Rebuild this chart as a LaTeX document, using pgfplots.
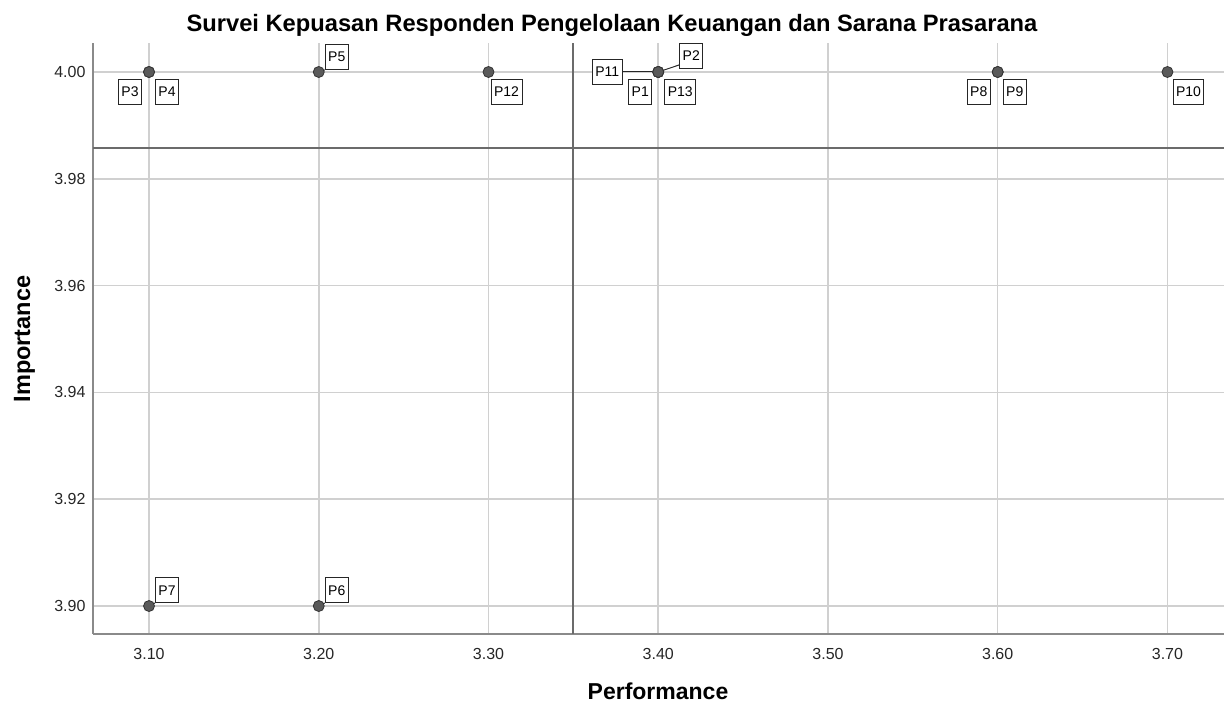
\documentclass[border=0pt]{standalone}
\usepackage{pgfplots}
\pgfplotsset{compat=1.18}
\usepackage{fontspec}
\setmainfont{Liberation Sans}
\definecolor{gridc}{HTML}{D0D0D0}
\definecolor{refc}{HTML}{6B6B6B}
\definecolor{markc}{HTML}{5A5A5A}
\definecolor{axc}{HTML}{8A8A8A}
\begin{document}
\begin{tikzpicture}[x=1pt,y=1pt,
  lbl/.style={draw=black!85, fill=white, line width=0.9pt, font=\fontsize{14}{14}\selectfont, inner xsep=3pt, inner ysep=0pt, minimum height=25pt, text height=10pt, text depth=0pt},
  con/.style={black!85, line width=1pt}]
\path[use as bounding box] (0,0) rectangle (1224,704);
\begin{axis}[
  at={(93pt,70pt)}, anchor=south west,
  scale only axis, width=1131pt, height=591pt,
  xmin=3.067, xmax=3.7333, ymin=3.89476, ymax=4.00543,
  axis x line*=bottom, axis y line*=left,
  axis line style={-, color=axc, line width=1.8pt},
  xtick={3.1,3.2,3.3,3.4,3.5,3.6,3.7},
  ytick={3.90,3.92,3.94,3.96,3.98,4.00},
  /pgf/number format/.cd, fixed, fixed zerofill, precision=2, assume math mode=true,
  /pgfplots/.cd,
  grid=major, major grid style={gridc, line width=1.5pt},
  major tick length=0pt,
  tick label style={font=\fontsize{16}{18}\selectfont, text=black!85},
  xticklabel style={yshift=-11pt},
  yticklabel style={xshift=-4pt},
  clip=false,
]
\addplot[refc, line width=2pt] coordinates {(3.35,3.89476) (3.35,4.00543)};
\addplot[refc, line width=2pt] coordinates {(3.067,3.9858) (3.7333,3.9858)};
\node[lbl, xshift=-19pt, yshift=-19.5pt] at (axis cs:3.1,4.0) {P3};
\node[lbl, xshift=18pt, yshift=-19.5pt] at (axis cs:3.1,4.0) {P4};
\node[lbl, xshift=18pt, yshift=15pt] (p5) at (axis cs:3.2,4.0) {P5};
\draw[con] (axis cs:3.2,4.0) -- (p5.south west);
\node[lbl, xshift=18pt, yshift=-19.5pt] at (axis cs:3.3,4.0) {P12};
\node[lbl, xshift=-51pt, yshift=0pt] (p11) at (axis cs:3.4,4.0) {P11};
\draw[con] (axis cs:3.4,4.0) -- (p11.east);
\node[lbl, xshift=-18pt, yshift=-19.5pt] at (axis cs:3.4,4.0) {P1};
\node[lbl, xshift=22pt, yshift=-19.5pt] at (axis cs:3.4,4.0) {P13};
\node[lbl, xshift=33pt, yshift=16pt] (p2) at (axis cs:3.4,4.0) {P2};
\draw[con] (axis cs:3.4,4.0) -- ([yshift=4pt]p2.south west);
\node[lbl, xshift=-19pt, yshift=-19.5pt] at (axis cs:3.6,4.0) {P8};
\node[lbl, xshift=17pt, yshift=-19.5pt] at (axis cs:3.6,4.0) {P9};
\node[lbl, xshift=21pt, yshift=-19.5pt] at (axis cs:3.7,4.0) {P10};
\node[lbl, xshift=18pt, yshift=16pt] (p7) at (axis cs:3.1,3.9) {P7};
\draw[con] (axis cs:3.1,3.9) -- (p7.south west);
\node[lbl, xshift=18pt, yshift=16pt] (p6) at (axis cs:3.2,3.9) {P6};
\draw[con] (axis cs:3.2,3.9) -- (p6.south west);
\addplot[only marks, mark=*, mark size=5.5pt, mark options={fill=markc, draw=black!80, line width=0.8pt}] coordinates {
 (3.4,4.0) (3.4,4.0) (3.1,4.0) (3.1,4.0) (3.2,4.0) (3.2,3.9) (3.1,3.9)
 (3.6,4.0) (3.6,4.0) (3.7,4.0) (3.4,4.0) (3.3,4.0) (3.4,4.0)};
\end{axis}
\node[font=\bfseries\fontsize{23.7}{26}\selectfont, anchor=base] at (612,672) {Survei Kepuasan Responden Pengelolaan Keuangan dan Sarana Prasarana};
\node[font=\bfseries\fontsize{23}{26}\selectfont, anchor=base, inner sep=0pt] at (658,4) {Performance};
\node[font=\bfseries\fontsize{23.5}{26}\selectfont, rotate=90, anchor=base] at (30,365) {Importance};
\end{tikzpicture}
\end{document}
